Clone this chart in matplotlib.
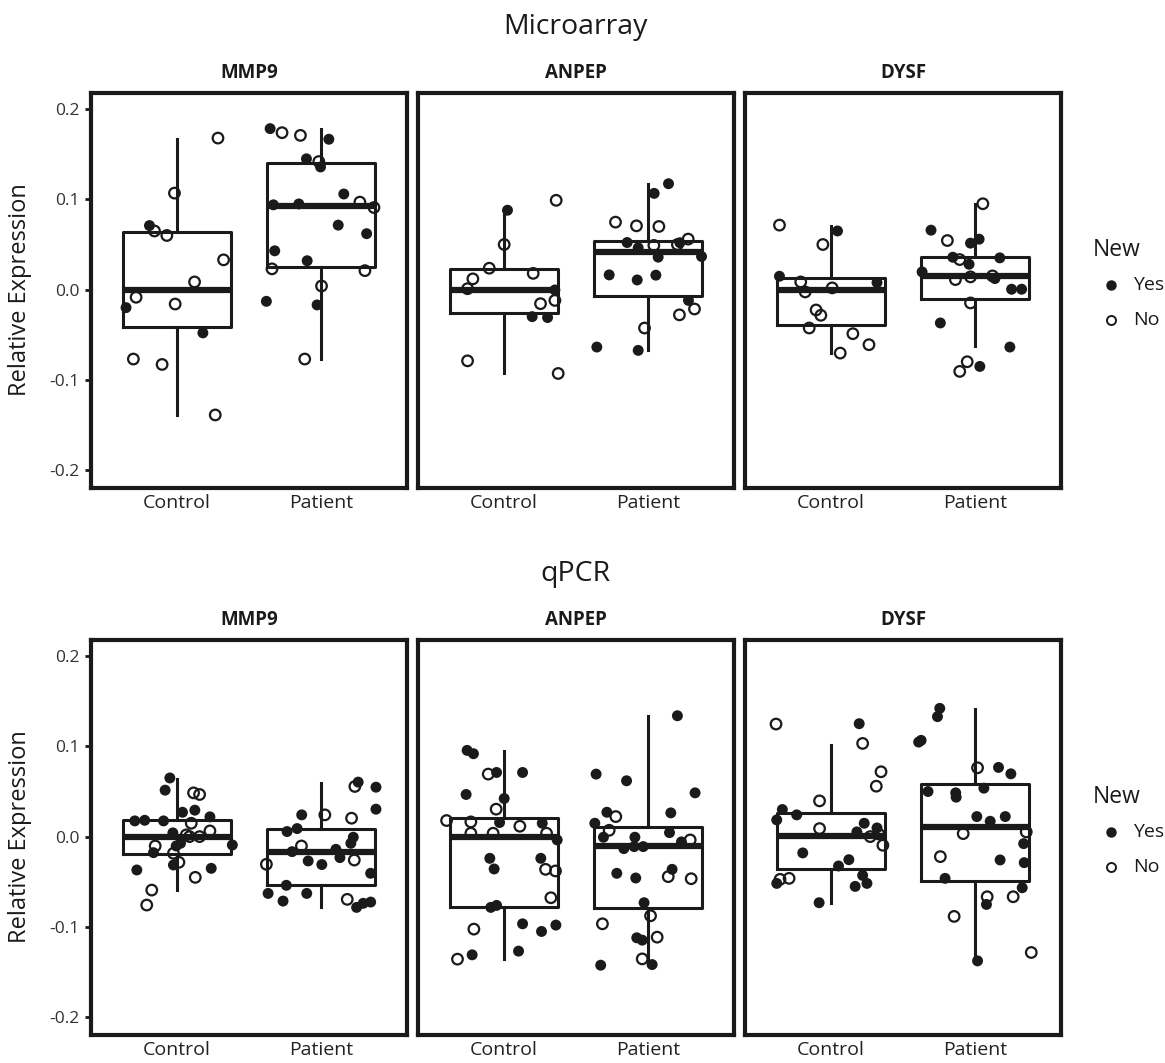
import matplotlib
matplotlib.use("Agg")
import matplotlib.pyplot as plt
from matplotlib.lines import Line2D

plt.rcParams['font.family'] = ['Open Sans', 'DejaVu Sans']

genes = ["MMP9", "ANPEP", "DYSF"]
groups = ["Control", "Patient"]
platforms = ["Microarray", "qPCR"]
yticks = [0.2, 0.1, 0.0, -0.1, -0.2]
ytick_labels = ["0.2", "0.1", "0.0", "-0.1", "-0.2"]

# box stats per group: [whisker low, q1, median, q3, whisker high]
ma_mmp9_box = [[-0.139, -0.041, 0.0, 0.064, 0.167], [-0.077, 0.025, 0.0926, 0.140, 0.178]]
ma_anpep_box = [[-0.092, -0.026, 0.0, 0.0226, 0.088], [-0.067, -0.0067, 0.0419, 0.0544, 0.1167]]
ma_dysf_box = [[-0.070, -0.039, 0.0, 0.013, 0.070], [-0.063, -0.0107, 0.0148, 0.0356, 0.0944]]
pcr_mmp9_box = [[-0.059, -0.019, 0.0, 0.018, 0.0637], [-0.078, -0.054, -0.0167, 0.0089, 0.059]]
pcr_anpep_box = [[-0.136, -0.0778, 0.0, 0.0204, 0.0944], [-0.142, -0.0796, -0.0104, 0.0104, 0.1333]]
pcr_dysf_box = [[-0.0733, -0.0356, 0.0011, 0.0259, 0.102], [-0.1378, -0.0489, 0.0111, 0.0578, 0.1415]]

# points: value, jitter offset, new (1 = Yes, 0 = No)
ma_mmp9_ctrl_val = [0.168, 0.107, 0.071, 0.065, 0.060, 0.033, 0.0085, -0.0085, -0.020, -0.016, -0.048, -0.077, -0.083, -0.139]
ma_mmp9_ctrl_jit = [0.284, -0.019, -0.193, -0.158, -0.072, 0.323, 0.121, -0.286, -0.356, -0.014, 0.179, -0.305, -0.105, 0.265]
ma_mmp9_ctrl_new = [0, 0, 1, 0, 0, 0, 0, 0, 1, 0, 1, 0, 0, 0]
ma_mmp9_pat_val = [0.1785, 0.174, 0.171, 0.1667, 0.145, 0.142, 0.136, 0.106, 0.097, 0.091, 0.094, 0.095, 0.0715, 0.062, 0.043, 0.032, 0.023, 0.021, 0.004, -0.013, -0.017, -0.077]
ma_mmp9_pat_jit = [-0.353, -0.270, -0.142, 0.056, -0.100, -0.014, -0.002, 0.160, 0.272, 0.370, -0.330, -0.153, 0.121, 0.319, -0.321, -0.095, -0.340, 0.307, 0.005, -0.379, -0.026, -0.112]
ma_mmp9_pat_new = [1, 0, 0, 1, 1, 0, 1, 1, 0, 0, 1, 1, 1, 1, 1, 1, 0, 0, 0, 1, 1, 0]

ma_anpep_ctrl_val = [0.099, 0.088, 0.050, 0.0237, 0.0119, 0.001, 0.018, -0.0004, -0.012, -0.0156, -0.030, -0.031, -0.079, -0.093]
ma_anpep_ctrl_jit = [0.362, 0.023, 0.0, -0.104, -0.218, -0.255, 0.202, 0.353, 0.353, 0.253, 0.195, 0.302, -0.255, 0.376]
ma_anpep_ctrl_new = [0, 1, 0, 0, 0, 0, 0, 1, 0, 0, 1, 1, 0, 0]
ma_anpep_pat_val = [0.1174, 0.1067, 0.0748, 0.0707, 0.070, 0.0522, 0.0463, 0.049, 0.050, 0.052, 0.056, 0.036, 0.0367, 0.0163, 0.0107, 0.016, -0.012, -0.0215, -0.028, -0.0426, -0.0637, -0.0674]
ma_anpep_pat_jit = [0.144, 0.044, -0.225, -0.079, 0.077, -0.144, -0.067, 0.042, 0.206, 0.223, 0.281, 0.072, 0.374, -0.269, -0.074, 0.056, 0.283, 0.325, 0.220, -0.023, -0.355, -0.067]
ma_anpep_pat_new = [1, 1, 0, 0, 0, 1, 1, 0, 0, 1, 0, 1, 1, 1, 1, 1, 1, 0, 0, 0, 1, 1]

ma_dysf_ctrl_val = [0.0715, 0.065, 0.050, 0.0148, 0.0085, -0.0026, 0.0019, 0.0078, -0.0226, -0.0285, -0.0426, -0.0489, -0.0611, -0.0704]
ma_dysf_ctrl_jit = [-0.360, 0.044, -0.058, -0.360, -0.212, -0.181, 0.007, 0.319, -0.105, -0.072, -0.153, 0.151, 0.263, 0.063]
ma_dysf_ctrl_new = [0, 1, 0, 1, 0, 0, 0, 1, 0, 0, 0, 0, 0, 0]
ma_dysf_pat_val = [0.0952, 0.0659, 0.0544, 0.0515, 0.0559, 0.0359, 0.0333, 0.0281, 0.0352, 0.0196, 0.0111, 0.0141, 0.0152, 0.0122, 0.0004, 0.0004, -0.0148, -0.037, -0.0637, -0.080, -0.0907, -0.0852]
ma_dysf_pat_jit = [0.056, -0.305, -0.191, -0.030, 0.030, -0.153, -0.105, -0.040, 0.174, -0.367, -0.135, -0.030, 0.123, 0.140, 0.256, 0.326, -0.030, -0.240, 0.244, -0.053, -0.105, 0.035]
ma_dysf_pat_new = [0, 1, 0, 1, 1, 1, 0, 1, 1, 1, 0, 0, 0, 1, 1, 1, 0, 1, 1, 0, 0, 1]

pcr_mmp9_ctrl_val = [0.065, 0.0515, 0.0485, 0.0467, 0.027, 0.0293, 0.0219, 0.0174, 0.0181, 0.0174, 0.0148, 0.0063, 0.0041, 0.0019, 0.0, 0.0, -0.0074, -0.0104, -0.0093, -0.0104, -0.0178, -0.0185, -0.0285, -0.0315, -0.037, -0.0352, -0.0452, -0.0593, -0.0759]
pcr_mmp9_ctrl_jit = [-0.051, -0.084, 0.114, 0.156, 0.037, 0.123, 0.228, -0.295, -0.226, -0.095, 0.098, 0.228, -0.030, 0.063, 0.086, 0.156, 0.023, -0.007, 0.384, -0.153, -0.165, -0.026, 0.012, -0.026, -0.281, 0.237, 0.126, -0.177, -0.212]
pcr_mmp9_ctrl_new = [1, 1, 0, 0, 1, 1, 1, 1, 1, 1, 0, 0, 1, 0, 0, 0, 1, 1, 1, 0, 1, 0, 0, 1, 1, 1, 0, 0, 0]
pcr_mmp9_pat_val = [0.0604, 0.0556, 0.0548, 0.0304, 0.0241, 0.0241, 0.0204, 0.0089, 0.0056, -0.0007, -0.0074, -0.0104, -0.0141, -0.0167, -0.0233, -0.026, -0.027, -0.031, -0.0307, -0.0407, -0.054, -0.063, -0.0715, -0.063, -0.0696, -0.0785, -0.074, -0.0726]
pcr_mmp9_pat_jit = [0.260, 0.237, 0.384, 0.384, -0.133, 0.028, 0.214, -0.165, -0.235, 0.226, 0.209, -0.135, 0.105, -0.200, 0.133, 0.233, -0.088, 0.007, -0.379, 0.347, -0.240, -0.367, -0.263, -0.098, 0.184, 0.249, 0.295, 0.347]
pcr_mmp9_pat_new = [1, 0, 1, 1, 1, 0, 0, 1, 1, 1, 1, 0, 1, 1, 1, 0, 1, 1, 0, 1, 1, 1, 1, 1, 0, 1, 1, 1]

pcr_anpep_ctrl_val = [0.0956, 0.0919, 0.0693, 0.0711, 0.0711, 0.0467, 0.0422, 0.0304, 0.0178, 0.0163, 0.0156, 0.0115, 0.0148, 0.0037, 0.0037, 0.0037, -0.0037, -0.0241, -0.0359, -0.0241, -0.0363, -0.0381, -0.0678, -0.0763, -0.0785, -0.1026, -0.0967, -0.1052, -0.0981, -0.1311, -0.1359, -0.127]
pcr_anpep_ctrl_jit = [-0.258, -0.214, -0.111, -0.053, 0.128, -0.265, 0.0, -0.056, -0.401, -0.232, -0.032, 0.109, 0.265, -0.232, -0.077, 0.295, 0.369, -0.100, -0.070, 0.255, 0.288, 0.357, 0.325, -0.053, -0.093, -0.211, 0.128, 0.260, 0.360, -0.223, -0.325, 0.100]
pcr_anpep_ctrl_new = [1, 1, 0, 1, 1, 1, 1, 0, 0, 0, 1, 0, 1, 0, 0, 0, 1, 1, 1, 1, 0, 0, 0, 1, 1, 0, 1, 1, 1, 1, 0, 1]
pcr_anpep_pat_val = [0.134, 0.0693, 0.0619, 0.0485, 0.027, 0.0222, 0.0263, 0.0148, 0.007, 0.0044, -0.0007, -0.0007, -0.0059, -0.0037, -0.0133, -0.0111, -0.0111, -0.0407, -0.0459, -0.0363, -0.0444, -0.0467, -0.0733, -0.0878, -0.0967, -0.1122, -0.1148, -0.1115, -0.1356, -0.1419, -0.1426]
pcr_anpep_pat_jit = [0.206, -0.360, -0.148, 0.329, -0.285, -0.223, 0.160, -0.369, -0.269, 0.151, -0.309, -0.090, 0.234, 0.295, -0.167, -0.095, -0.032, -0.216, -0.084, 0.169, 0.142, 0.302, -0.026, 0.019, -0.316, -0.077, -0.039, 0.065, -0.039, 0.030, -0.328]
pcr_anpep_pat_new = [1, 1, 1, 1, 1, 0, 1, 1, 0, 1, 1, 1, 1, 0, 1, 1, 1, 1, 1, 1, 0, 0, 1, 0, 0, 1, 1, 0, 0, 1, 1]

pcr_dysf_ctrl_val = [0.1248, 0.1252, 0.1033, 0.0719, 0.0559, 0.0396, 0.030, 0.0241, 0.0185, 0.0089, 0.0148, 0.0096, 0.0052, 0.0, 0.003, -0.0096, -0.0181, -0.0256, -0.0326, -0.043, -0.0552, -0.0519, -0.0463, -0.0474, -0.0519, -0.0733]
pcr_dysf_ctrl_jit = [-0.384, 0.195, 0.219, 0.347, 0.314, -0.081, -0.340, -0.240, -0.379, -0.081, 0.230, 0.319, 0.179, 0.272, 0.330, 0.360, -0.198, 0.123, 0.051, 0.219, 0.167, 0.249, -0.293, -0.356, -0.379, -0.084]
pcr_dysf_ctrl_new = [0, 1, 0, 0, 0, 0, 1, 1, 1, 0, 1, 1, 1, 0, 0, 0, 1, 1, 1, 1, 1, 1, 0, 0, 1, 1]
pcr_dysf_pat_val = [0.1422, 0.133, 0.1067, 0.1048, 0.0763, 0.0767, 0.0696, 0.050, 0.0485, 0.0437, 0.0537, 0.0222, 0.0222, 0.017, 0.0033, 0.0052, -0.0078, -0.0222, -0.0259, -0.0289, -0.0463, -0.0567, -0.0667, -0.0667, -0.0752, -0.0885, -0.1285, -0.1378]
pcr_dysf_pat_jit = [-0.244, -0.260, -0.374, -0.391, 0.019, 0.165, 0.251, -0.326, -0.133, -0.130, 0.063, 0.014, 0.212, 0.107, -0.081, 0.358, 0.340, -0.240, 0.176, 0.344, -0.207, 0.330, 0.086, 0.267, 0.081, -0.144, 0.393, 0.019]
pcr_dysf_pat_new = [1, 1, 1, 1, 0, 1, 1, 1, 1, 1, 1, 1, 1, 1, 0, 0, 1, 0, 1, 1, 1, 1, 0, 0, 1, 0, 0, 1]

panels = [
    [(ma_mmp9_box, ma_mmp9_ctrl_val, ma_mmp9_ctrl_jit, ma_mmp9_ctrl_new, ma_mmp9_pat_val, ma_mmp9_pat_jit, ma_mmp9_pat_new),
     (ma_anpep_box, ma_anpep_ctrl_val, ma_anpep_ctrl_jit, ma_anpep_ctrl_new, ma_anpep_pat_val, ma_anpep_pat_jit, ma_anpep_pat_new),
     (ma_dysf_box, ma_dysf_ctrl_val, ma_dysf_ctrl_jit, ma_dysf_ctrl_new, ma_dysf_pat_val, ma_dysf_pat_jit, ma_dysf_pat_new)],
    [(pcr_mmp9_box, pcr_mmp9_ctrl_val, pcr_mmp9_ctrl_jit, pcr_mmp9_ctrl_new, pcr_mmp9_pat_val, pcr_mmp9_pat_jit, pcr_mmp9_pat_new),
     (pcr_anpep_box, pcr_anpep_ctrl_val, pcr_anpep_ctrl_jit, pcr_anpep_ctrl_new, pcr_anpep_pat_val, pcr_anpep_pat_jit, pcr_anpep_pat_new),
     (pcr_dysf_box, pcr_dysf_ctrl_val, pcr_dysf_ctrl_jit, pcr_dysf_ctrl_new, pcr_dysf_pat_val, pcr_dysf_pat_jit, pcr_dysf_pat_new)],
]

W, H = 1165, 1063
fig = plt.figure(figsize=(W / 100, H / 100), dpi=100)

col_left = [91, 418, 745]
col_w = 316
row_top = [93, 640]
row_h = 395

def draw_points(ax, pos, vals, jit, new):
    xs_y = [pos + j for j, n in zip(jit, new) if n == 1]
    ys_y = [v for v, n in zip(vals, new) if n == 1]
    xs_n = [pos + j for j, n in zip(jit, new) if n == 0]
    ys_n = [v for v, n in zip(vals, new) if n == 0]
    ax.scatter(xs_y, ys_y, s=62, color='#1a1a1a', edgecolors='none', zorder=4)
    ax.scatter(xs_n, ys_n, s=58, facecolors='none', edgecolors='#1a1a1a', linewidths=1.6, zorder=4)

for r in range(2):
    for c in range(3):
        box, cv, cj, cn, pv, pj, pn = panels[r][c]
        ax = fig.add_axes([col_left[c] / W, 1 - (row_top[r] + row_h) / H, col_w / W, row_h / H])
        stats = []
        for b in box:
            stats.append(dict(whislo=b[0], q1=b[1], med=b[2], q3=b[3], whishi=b[4]))
        ax.bxp(stats, positions=[1, 2], widths=0.75, showfliers=False, showcaps=False,
               boxprops=dict(color='#1a1a1a', linewidth=2.2),
               whiskerprops=dict(color='#1a1a1a', linewidth=2.2),
               medianprops=dict(color='#1a1a1a', linewidth=4.5, solid_capstyle='butt'))
        draw_points(ax, 1, cv, cj, cn)
        draw_points(ax, 2, pv, pj, pn)
        ax.set_xlim(0.4, 2.6)
        ax.set_ylim(-0.22, 0.218)
        ax.set_xticks([1, 2])
        ax.set_xticklabels(groups, fontsize=14, color='#222222')
        ax.tick_params(axis='x', length=0, pad=4)
        for sp in ax.spines.values():
            sp.set_linewidth(3)
            sp.set_color('#1a1a1a')
        if c == 0:
            ax.set_yticks(yticks)
            ax.set_yticklabels(ytick_labels, fontsize=12.5, color='#333333')
            ax.tick_params(axis='y', length=4, width=2, color='#1a1a1a', pad=4)
        else:
            ax.set_yticks([])
        fig.text((col_left[c] + col_w / 2) / W, 1 - (row_top[r] - 20) / H, genes[c],
                 ha='center', va='center', fontsize=13.5, fontweight='bold', color='#1a1a1a')
    fig.text(575 / W, 1 - (row_top[r] - 66) / H, platforms[r], ha='center', va='center',
             fontsize=20.5, color='#1a1a1a')
    fig.text(20 / W, 1 - (row_top[r] + 197) / H, "Relative Expression", rotation=90,
             ha='center', va='center', fontsize=17, color='#1a1a1a')
    # legend
    ly = row_top[r] + 157
    fig.text(1093 / W, 1 - ly / H, "New", ha='left', va='center', fontsize=16.5, color='#1a1a1a')
    fig.add_artist(Line2D([1111 / W], [1 - (ly + 35) / H], marker='o', markersize=6.5,
                          color='#1a1a1a', linestyle='none', transform=fig.transFigure))
    fig.add_artist(Line2D([1111 / W], [1 - (ly + 70) / H], marker='o', markersize=6.5,
                          markerfacecolor='none', markeredgecolor='#1a1a1a', markeredgewidth=1.4,
                          linestyle='none', transform=fig.transFigure))
    fig.text(1133 / W, 1 - (ly + 35) / H, "Yes", ha='left', va='center', fontsize=14, color='#1a1a1a')
    fig.text(1133 / W, 1 - (ly + 70) / H, "No", ha='left', va='center', fontsize=14, color='#1a1a1a')

fig.savefig("out.png", dpi=100, facecolor='white')
